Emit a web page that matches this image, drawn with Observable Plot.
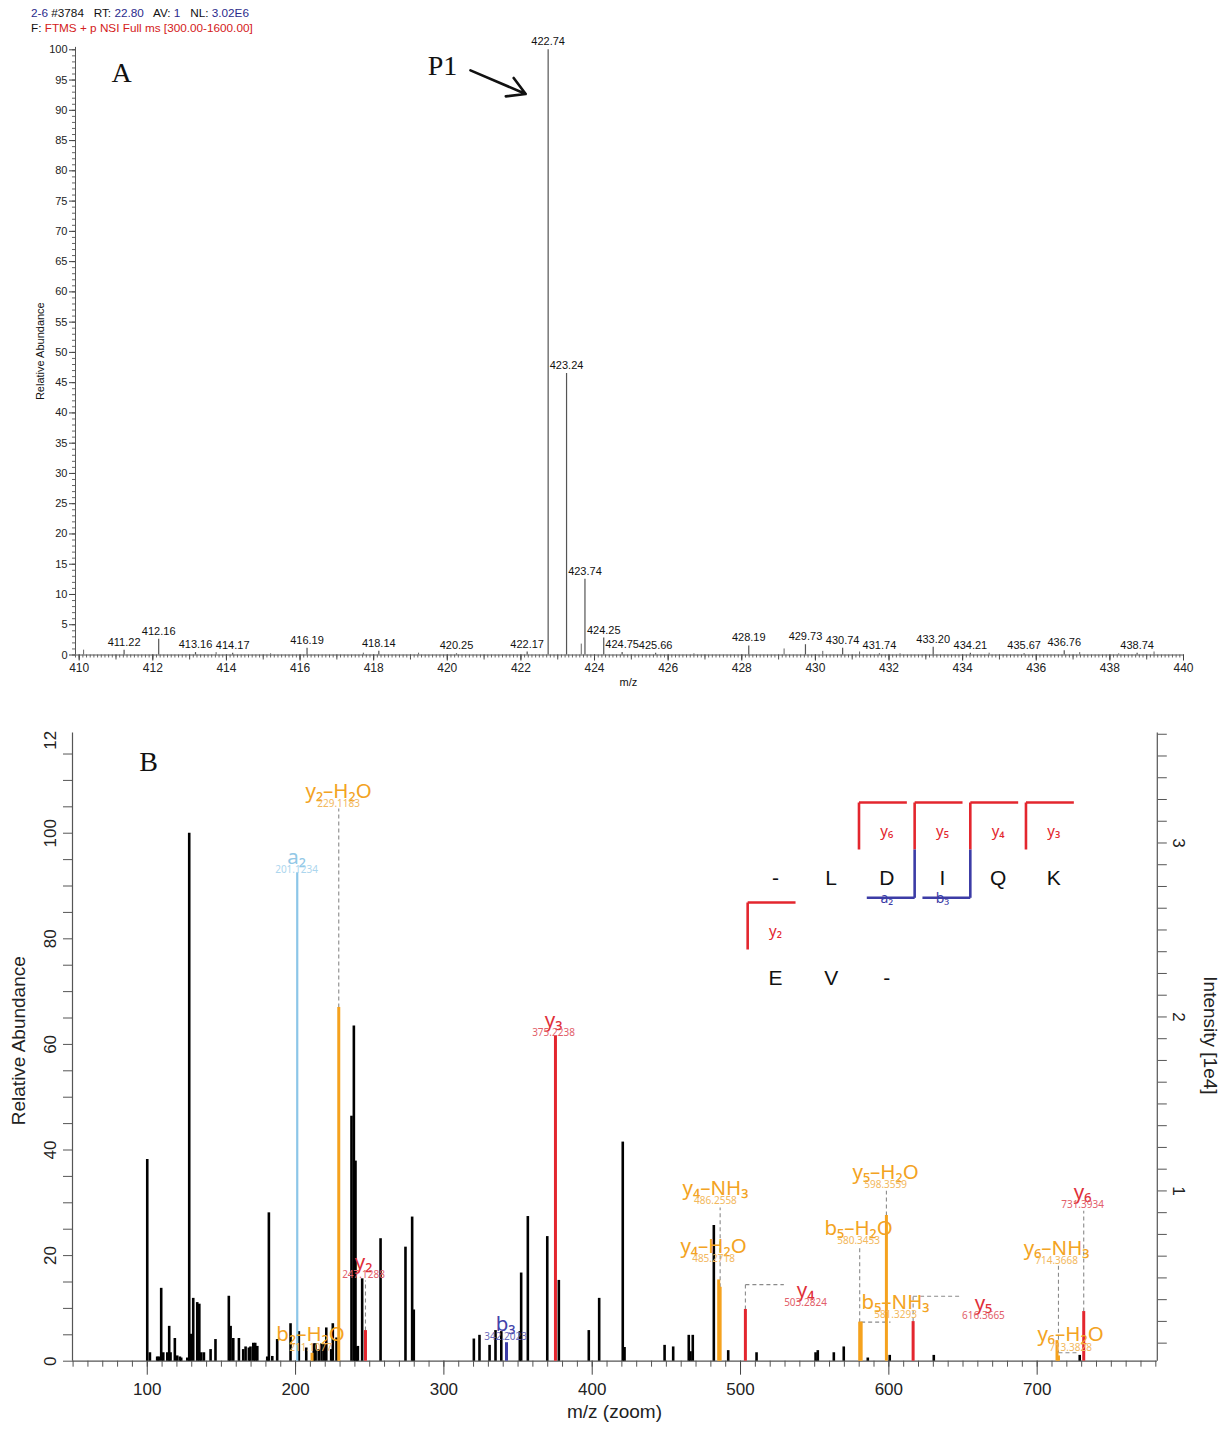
<!DOCTYPE html>
<html><head><meta charset="utf-8">
<script src="https://cdn.jsdelivr.net/npm/d3@7"></script>
<script src="https://cdn.jsdelivr.net/npm/@observablehq/plot@0.6"></script>
<style>
body{margin:0;background:#fff;}
#wrap{position:relative;width:1222px;height:1429px;overflow:hidden;background:#fff;}
#wrap svg{position:absolute;left:0;}
#hdr{position:absolute;left:31px;top:5px;font:11.75px "Liberation Sans",Arial,sans-serif;line-height:15px;z-index:5;white-space:pre;color:#111;}
.b{color:#2b2b8c}.r{color:#d42020}
</style></head><body><div id="wrap"><div id="hdr"></div></div>
<script>
// ---------- header ----------
const hdrLine1 = [["2-6","b"],[" #3784   RT: ",""],["22.80","b"],["   AV: ",""],["1","b"],["   NL: ",""],["3.02E6","b"]];
const hdrLine2 = [["F: ",""],["FTMS + p NSI Full ms [300.00-1600.00]","r"]];

// ---------- panel A data ----------
const aLabelMz  = [411.22,412.16,413.16,414.17,416.19,418.14,420.25,422.17,422.74,423.24,423.74,424.25,424.75,425.66,428.19,429.73,430.74,431.74,433.20,434.21,435.67,436.76,438.74];
const aLabelVal = [0.8,2.6,0.4,0.3,1.1,0.6,0.2,0.5,100,46.5,12.5,2.8,0.4,0.3,1.5,1.7,1.1,0.2,1.3,0.3,0.2,0.7,0.3];
const aLabelTxt = ["411.22","412.16","413.16","414.17","416.19","418.14","420.25","422.17","422.74","423.24","423.74","424.25","424.75","425.66","428.19","429.73","430.74","431.74","433.20","434.21","435.67","436.76","438.74"];
const aSmallMz  = [410.12,413.72,415.2,417.72,419.22,423.64,426.7,429.15,430.2,431.2,432.3,434.72,437.18,438.24,439.2];
const aSmallVal = [0.8,0.4,0.2,0.3,0.3,1.8,0.2,1.0,0.6,0.5,0.2,0.3,0.4,0.2,0.5];
const aTickLabels = d3.range(410, 441, 2);
const aYTickLabels = d3.range(0, 101, 5);

// ---------- panel B data ----------
const bBlackMz  = [100.0,101.8,106.7,107.8,109.4,110.8,113.5,114.8,115.7,118.6,120.2,122.0,122.9,127.0,128.3,129.4,131.0,133.7,135.1,136.4,138.2,142.7,146.0,155.0,156.2,158.0,161.8,164.7,166.3,168.5,169.6,171.5,172.8,174.2,180.9,182.0,184.3,187.6,196.6,202.2,207.2,212.3,213.5,215.6,217.5,219.1,220.7,224.0,225.1,227.6,237.7,239.3,240.4,241.3,242.0,244.9,257.3,274.1,278.6,279.7,320.2,324.0,330.8,334.8,338.7,351.2,352.1,356.6,369.7,377.5,397.7,404.7,420.6,421.8,448.8,454.6,465.1,466.3,467.8,482.0,491.7,510.8,550.6,552.1,562.9,569.6,585.8,600.6,630.3,728.7];
const bBlackVal = [38.2,1.6,0.8,0.8,13.8,1.6,1.6,6.6,1.6,4.3,1.0,0.8,0.6,0.6,100,5.1,11.9,11.1,10.8,1.6,1.6,2.2,4.1,12.3,6.6,4.3,4.3,2.2,2.7,2.5,2.7,3.4,3.4,2.8,0.8,28.1,0.9,4.1,7.1,5.6,2.5,3.3,3.3,2.2,3.3,3.3,6.3,2.2,7.1,4.4,46.4,63.5,37.9,2.7,2.8,15.6,23.2,21.6,27.3,9.7,4.2,4.9,3.0,5.8,5.6,5.6,16.7,27.4,23.6,15.3,5.8,11.9,41.5,2.6,3.0,2.7,4.9,1.8,4.9,25.7,2.0,1.6,1.6,2.0,1.6,2.7,0.6,1.1,1.1,1.1];

const ionName  = ["a₂","b₂–H₂O","y₂–H₂O","y₂","b₃","y₃","y₄–H₂O","y₄–NH₃","y₄","b₅–H₂O","b₅–NH₃","y₅–H₂O","y₅","y₆–H₂O","y₆–NH₃","y₆"];
const ionMzTxt = ["201.1234","211.1077","229.1183","247.1288","342.2023","375.2238","485.2718","486.2558","503.2824","580.3453","581.3293","598.3559","616.3665","713.3828","714.3668","731.3934"];
const ionMz    = [201.1234,211.1077,229.1183,247.1288,342.2023,375.2238,485.2718,486.2558,503.2824,580.3453,581.3293,598.3559,616.3665,713.3828,714.3668,731.3934];
const ionVal   = [92.5,1.5,67,5.8,3.5,61.6,15.4,14.0,9.8,7.4,7.4,27.6,7.5,3.9,1.0,9.4];
const ionKind  = ["a","loss","loss","y","b","y","loss","loss","y","loss","loss","loss","y","loss","loss","y"];
const ionLabX  = [200.65,210.1,229.0,245.8,341.6,373.9,481.8,483.1,543.8,579.6,604.5,597.8,663.8,722.5,713.1,730.6];
const ionLabY  = [95.4,5.0,107.9,18.7,6.95,64.5,21.7,32.7,13.4,25.1,11.1,35.7,10.9,5.0,21.3,31.9];

const connX1 = [229.1183,247.1288,486.2558,503.2824,503.2824,580.3453,581.3293,598.3559,616.3665,616.3665,714.3668,714.3668,731.3934];
const connY1 = [67,5.8,14.0,9.8,14.5,7.4,7.4,27.6,7.5,12.3,18.1,1.6,9.4];
const connX2 = [229.1183,247.1288,486.2558,503.2824,529.2,580.3453,601.1,598.3559,616.3665,649.4,714.3668,727.9,731.3934];
const connY2 = [104.7,15.3,29.1,14.5,14.5,21.5,7.4,32.3,12.3,12.3,1.6,1.6,28.5];

const bYTicks = [0,20,40,60,80,100];
const bYTickLabels = ["0","20","40","60","80","100"];
const bTopPartialLabel = "12";
const bXTicks = [100,200,300,400,500,600,700];
const intTicks = [1,2,3];
const relPerInt = 32.95;
const intOffset = -0.7;

// sequence diagram
const seqTop = ["-","L","D","I","Q","K"];
const seqBottom = ["E","V","-"];
const yIonLabels = ["y₆","y₅","y₄","y₃","y₂"];
const yIonCut = [1.5,2.5,3.5,4.5,-0.5];
const yIonRow = [0,0,0,0,1];
const bIonLabels = ["a₂","b₃"];
const bIonCut = [2.5,3.5];

const colors = {y:"#e3262e", loss:"#f5a21e", a:"#8cc6e8", b:"#3c3ca6"};
const nameColors = {y:"#e03039", loss:"#f3a322", a:"#92c8e6", b:"#4343aa"};
const numColors = {y:"#e2606a", loss:"#f2b85e", a:"#acd6ee", b:"#6b6bba"};

// ---------- build ----------
const hdr = document.getElementById("hdr");
const line = arr => arr.map(([t,c]) => `<span class="${c}">${t}</span>`).join("");
hdr.innerHTML = line(hdrLine1) + "\n" + line(hdrLine2);

const wrap = document.getElementById("wrap");
const SANS = "Liberation Sans, Arial, sans-serif";
const LBL = "Noto Sans, DejaVu Sans, sans-serif";

const peaksA = aLabelMz.map((mz,i)=>({mz, v:aLabelVal[i], t:aLabelTxt[i]}));
const smallA = aSmallMz.map((mz,i)=>({mz, v:aSmallVal[i]}));

const tickStep = d3.range(0, 302).map(i => +(409.9 + i*0.1).toFixed(1));
const plotA = Plot.plot({
  width: 1222, height: 700,
  marginLeft: 75, marginRight: 39, marginTop: 49.3, marginBottom: 45.5,
  x: {domain: [409.9, 440]},
  y: {domain: [0, 100]},
  style: {fontFamily: SANS, background: "transparent", color: "#222"},
  marks: [
    Plot.axisX({ticks: tickStep, tickSize: 3, tickFormat: () => "", label: null, stroke: "#666"}),
    Plot.axisX({ticks: d3.range(410, 441, 1), tickSize: 5, tickFormat: () => "", label: null, stroke: "#555"}),
    Plot.axisX({ticks: aTickLabels, tickSize: 6, tickPadding: 2, fontSize: 12, label: null, stroke: "#444"}),
    Plot.axisY({ticks: d3.range(0, 101, 1), tickSize: 3, tickFormat: () => "", label: null, stroke: "#666"}),
    Plot.axisY({ticks: aYTickLabels, tickSize: 6, tickPadding: 2, fontSize: 11, label: null, stroke: "#444"}),
    Plot.ruleY([0], {stroke: "#555"}),
    Plot.ruleX([409.9], {y1: 0, y2: 100.4, stroke: "#555"}),
    Plot.ruleX(smallA, {x: "mz", y1: 0, y2: "v", stroke: "#666", strokeWidth: 1}),
    Plot.ruleX(peaksA, {x: "mz", y1: 0, y2: "v", stroke: "#555", strokeWidth: 1.2}),
    Plot.text(peaksA, {x: "mz", y: "v", text: "t", dy: -8, fontSize: 11, fill: "#111"}),
    Plot.text([{x: 424.92}], {x: "x", frameAnchor: "bottom", dy: 31, text: () => "m/z", fontSize: 11, fill: "#111"}),
    Plot.text([{y: 50.2}], {y: "y", frameAnchor: "left", dx: -35, rotate: -90, textAnchor: "middle", text: () => "Relative Abundance", fontSize: 11, fill: "#111"}),
    Plot.text([{x: 411.15, y: 96.2, t: "A"}, {x: 419.87, y: 97.4, t: "P1"}], {x: "x", y: "y", text: "t", fontFamily: "Liberation Serif, serif", fontSize: 28, fill: "#111"}),
    Plot.arrow([{x1: 420.63, y1: 96.6, x2: 422.13, y2: 92.7}], {x1: "x1", y1: "y1", x2: "x2", y2: "y2", stroke: "#111", strokeWidth: 2.6, headLength: 18})
  ]
});
plotA.style.top = "0px";
wrap.appendChild(plotA);

// panel B
const black = bBlackMz.map((mz,i)=>({mz, v:bBlackVal[i]}));
const ions = ionName.map((n,i)=>({name:n, num:ionMzTxt[i], mz:ionMz[i], v:ionVal[i], kind:ionKind[i], lx:ionLabX[i], ly:ionLabY[i]}));
const conns = connX1.map((x1,i)=>({x1, y1:connY1[i], x2:connX2[i], y2:connY2[i]}));
const yLab = bYTicks.map((v,i)=>({v, t:bYTickLabels[i]}));
yLab.push({v: 117.6, t: bTopPartialLabel});
const intLab = intTicks.map(i=>({v:i*relPerInt + intOffset, t:String(i)}));

const plotB = Plot.plot({
  width: 1222, height: 729,
  marginLeft: 72, marginRight: 65.2, marginTop: 32.4, marginBottom: 68.3,
  x: {domain: [49.6, 781]},
  y: {domain: [0, 119]},
  style: {fontFamily: SANS, background: "transparent", color: "#222"},
  marks: [
    Plot.axisX({ticks: d3.range(50, 781, 10), tickSize: 6, tickFormat: () => "", label: null, stroke: "#555"}),
    Plot.axisX({ticks: bXTicks, tickSize: 14, tickPadding: 8, fontSize: 17, label: null, stroke: "#444"}),
    Plot.axisY({ticks: d3.range(0, 119, 5), tickSize: 9, tickFormat: () => "", label: null, stroke: "#555"}),
    Plot.axisY({anchor: "right", ticks: d3.range(0, 3.63, 0.125).map(i => i*relPerInt + intOffset).filter(v => v >= 0), tickSize: 9, tickFormat: () => "", label: null, stroke: "#555"}),
    Plot.text(yLab, {y: "v", text: "t", frameAnchor: "left", dx: -22, rotate: -90, textAnchor: "middle", fontSize: 17, fill: "#222"}),
    Plot.text(intLab, {y: "v", text: "t", frameAnchor: "right", dx: 21, rotate: 90, textAnchor: "middle", fontSize: 17, fill: "#222"}),
    Plot.ruleY([0], {stroke: "#555", strokeWidth: 1.2}),
    Plot.ruleX([49.6, 781], {y1: 0, y2: 119, stroke: "#555", strokeWidth: 1.2}),
    Plot.text([{y: 60.7}], {y: "y", frameAnchor: "left", dx: -54, rotate: -90, textAnchor: "middle", text: () => "Relative Abundance", fontSize: 19, fill: "#222"}),
    Plot.text([{y: 61.7}], {y: "y", frameAnchor: "right", dx: 53, rotate: 90, textAnchor: "middle", text: () => "Intensity [1e4]", fontSize: 19, fill: "#222"}),
    Plot.text([{x: 415}], {x: "x", frameAnchor: "bottom", dy: 57, text: () => "m/z (zoom)", fontSize: 19, fill: "#222"}),
    Plot.text([{x: 100.9, y: 113.4}], {x: "x", y: "y", text: () => "B", fontFamily: "Liberation Serif, serif", fontSize: 28, fill: "#111"}),
    Plot.ruleX(black, {x: "mz", y1: 0, y2: "v", stroke: "#000", strokeWidth: 2.6}),
    Plot.link(conns, {x1: "x1", y1: "y1", x2: "x2", y2: "y2", stroke: "#8a8a8a", strokeWidth: 1.1, strokeDasharray: "4,3"}),
    Plot.ruleX(ions, {x: "mz", y1: 0, y2: "v", stroke: d => colors[d.kind], strokeWidth: d => d.kind === "a" ? 2.2 : 3}),
    Plot.text(ions, {x: "lx", y: "ly", text: "name", fill: d => nameColors[d.kind], fontSize: 20.5, fontFamily: LBL}),
    Plot.text(ions, {x: "lx", y: "ly", text: "num", dy: 12.5, fill: d => numColors[d.kind], fontSize: 10, fontFamily: LBL})
  ]
});
plotB.style.top = "700px";
wrap.appendChild(plotB);

// sequence overlay
const letters = seqTop.map((t,i)=>({i, r:0, t})).concat(seqBottom.map((t,i)=>({i, r:1, t})));
const segsRed = [], segsBlue = [], yl = [], bl = [];
yIonCut.forEach((c,k)=>{
  const r = yIonRow[k];
  segsRed.push({x1:c, y1:r-0.76, x2:c, y2:r-0.29});
  segsRed.push({x1:c, y1:r-0.76, x2:c+0.86, y2:r-0.76});
  yl.push({x:c+0.5, y:r-0.47, t:yIonLabels[k]});
});
bIonCut.forEach((c,k)=>{
  segsBlue.push({x1:c, y1:-0.29, x2:c, y2:0.193});
  segsBlue.push({x1:c, y1:0.193, x2:c-0.86, y2:0.193});
  bl.push({x:c-0.5, y:0.205, t:bIonLabels[k]});
});
const seq = Plot.plot({
  width: 1222, height: 729,
  marginLeft: 775, marginRight: 168.7, marginTop: 178, marginBottom: 451,
  x: {domain: [0, 5], axis: null},
  y: {domain: [0, 1], reverse: true, axis: null},
  style: {fontFamily: SANS, background: "transparent"},
  marks: [
    Plot.link(segsRed, {x1: "x1", y1: "y1", x2: "x2", y2: "y2", stroke: colors.y, strokeWidth: 2.6}),
    Plot.link(segsBlue, {x1: "x1", y1: "y1", x2: "x2", y2: "y2", stroke: colors.b, strokeWidth: 2.6}),
    Plot.text(letters, {x: "i", y: "r", text: "t", fontSize: 21, fill: "#111"}),
    Plot.text(yl, {x: "x", y: "y", text: "t", fontSize: 15, fill: colors.y, fontFamily: LBL}),
    Plot.text(bl, {x: "x", y: "y", text: "t", fontSize: 14, fill: colors.b, fontFamily: LBL})
  ]
});
seq.style.top = "700px";
seq.style.pointerEvents = "none";
wrap.appendChild(seq);
</script></body></html>
